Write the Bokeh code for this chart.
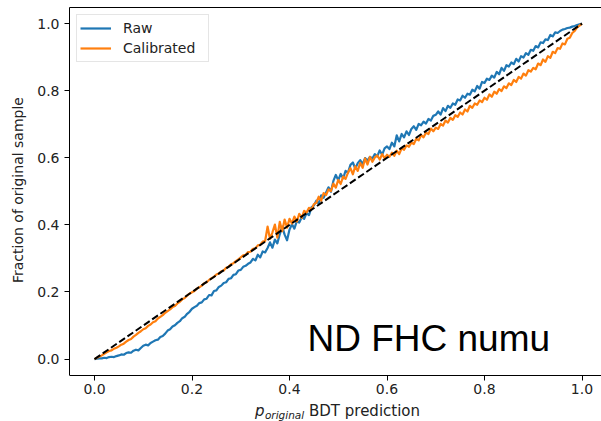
from bokeh.plotting import figure
from bokeh.models import Range1d, LinearAxis, FixedTicker, Label, Legend, LegendItem
from bokeh.embed import file_html
from bokeh.resources import INLINE

# Bin positions of the calibration curves (regular 0.005 grid from 0 to 1)
n_bins = 201
bin_step = 0.005
x_bins = [round(i * bin_step, 3) for i in range(n_bins)]

raw_frac = [
    0.000, 0.001, 0.002, 0.002, 0.004, 0.003, 0.006, 0.007, 0.006, 0.009, 0.011,
    0.014, 0.013, 0.018, 0.020, 0.019, 0.025, 0.028, 0.026, 0.033, 0.040,
    0.043, 0.041, 0.048, 0.052, 0.056, 0.058, 0.066, 0.069, 0.076, 0.085,
    0.089, 0.097, 0.101, 0.108, 0.113, 0.122, 0.126, 0.135, 0.141, 0.150,
    0.155, 0.159, 0.167, 0.169, 0.178, 0.180, 0.191, 0.190, 0.203, 0.205,
    0.215, 0.219, 0.227, 0.229, 0.239, 0.241, 0.251, 0.253, 0.264, 0.266,
    0.275, 0.278, 0.284, 0.288, 0.299, 0.294, 0.311, 0.303, 0.321, 0.318,
    0.331, 0.348, 0.332, 0.356, 0.345, 0.372, 0.395, 0.371, 0.354, 0.386,
    0.402, 0.389, 0.411, 0.407, 0.423, 0.418, 0.435, 0.429, 0.452, 0.458,
    0.472, 0.463, 0.488, 0.481, 0.497, 0.512, 0.499, 0.531, 0.549, 0.533,
    0.552, 0.539, 0.561, 0.556, 0.579, 0.586, 0.568, 0.584, 0.593, 0.581,
    0.599, 0.592, 0.603, 0.598, 0.611, 0.604, 0.622, 0.609, 0.628, 0.634,
    0.626, 0.645, 0.634, 0.667, 0.649, 0.671, 0.661, 0.679, 0.668, 0.686,
    0.694, 0.683, 0.701, 0.697, 0.708, 0.702, 0.716, 0.711, 0.725, 0.728,
    0.738, 0.729, 0.748, 0.739, 0.755, 0.749, 0.762, 0.758, 0.774, 0.771,
    0.785, 0.779, 0.791, 0.788, 0.803, 0.798, 0.814, 0.806, 0.826, 0.823,
    0.836, 0.832, 0.845, 0.839, 0.856, 0.849, 0.868, 0.859, 0.876, 0.872,
    0.884, 0.879, 0.895, 0.887, 0.903, 0.899, 0.912, 0.907, 0.922, 0.919,
    0.933, 0.929, 0.944, 0.942, 0.953, 0.951, 0.966, 0.962, 0.974, 0.972,
    0.978, 0.982, 0.984, 0.987, 0.988, 0.991, 0.993, 0.996, 0.998, 1.000,
]

calibrated_frac = [
    0.000, 0.004, 0.008, 0.011, 0.016, 0.020, 0.024, 0.026, 0.031, 0.034, 0.038,
    0.043, 0.046, 0.052, 0.057, 0.060, 0.067, 0.072, 0.078, 0.083, 0.089,
    0.092, 0.099, 0.103, 0.110, 0.113, 0.121, 0.126, 0.131, 0.138, 0.143,
    0.148, 0.155, 0.158, 0.166, 0.171, 0.178, 0.182, 0.189, 0.195, 0.199,
    0.203, 0.210, 0.214, 0.219, 0.226, 0.229, 0.236, 0.241, 0.245, 0.252,
    0.255, 0.262, 0.264, 0.272, 0.275, 0.283, 0.286, 0.292, 0.297, 0.303,
    0.309, 0.311, 0.319, 0.320, 0.329, 0.330, 0.339, 0.341, 0.350, 0.352,
    0.395, 0.358, 0.378, 0.401, 0.362, 0.409, 0.381, 0.416, 0.392, 0.418,
    0.404, 0.425, 0.410, 0.433, 0.421, 0.442, 0.437, 0.451, 0.446, 0.462,
    0.466, 0.484, 0.472, 0.495, 0.489, 0.506, 0.501, 0.523, 0.511, 0.534,
    0.522, 0.544, 0.537, 0.556, 0.569, 0.551, 0.575, 0.561, 0.585, 0.570,
    0.598, 0.580, 0.603, 0.588, 0.601, 0.607, 0.595, 0.611, 0.599, 0.609,
    0.603, 0.615, 0.606, 0.621, 0.611, 0.628, 0.624, 0.637, 0.633, 0.645,
    0.641, 0.657, 0.652, 0.668, 0.661, 0.675, 0.671, 0.687, 0.679, 0.690,
    0.686, 0.701, 0.696, 0.711, 0.705, 0.719, 0.713, 0.727, 0.722, 0.735,
    0.729, 0.744, 0.738, 0.755, 0.749, 0.762, 0.758, 0.771, 0.766, 0.779,
    0.773, 0.789, 0.782, 0.797, 0.791, 0.805, 0.799, 0.813, 0.808, 0.822,
    0.817, 0.832, 0.826, 0.841, 0.836, 0.851, 0.845, 0.861, 0.857, 0.868,
    0.864, 0.881, 0.876, 0.893, 0.886, 0.903, 0.898, 0.916, 0.912, 0.927,
    0.925, 0.941, 0.938, 0.955, 0.958, 0.972, 0.978, 0.989, 0.994, 1.000,
]

diag_x = [0.0, 1.0]
diag_y = [0.0, 1.0]

tick_values = [0.0, 0.2, 0.4, 0.6, 0.8, 1.0]
tick_labels = ["0.0", "0.2", "0.4", "0.6", "0.8", "1.0"]

series_names = ["Raw", "Calibrated"]
series_colors = ["#1f77b4", "#ff7f0e"]

FONT = "DejaVu Sans"
TXT = "#222222"

# visible axes box (data units); the frame extends below it to hold the x label
y_lo, y_hi = -0.049, 1.048

p = figure(
    width=601, height=421,
    output_backend="svg", toolbar_location=None,
    x_range=Range1d(-0.0513, 1.04), y_range=Range1d(-0.186, y_hi),
    min_border_left=69, min_border_right=0, min_border_top=7, min_border_bottom=0,
    background_fill_color="white", border_fill_color="white",
)
p.grid.visible = False
p.outline_line_color = None

for ax in (p.xaxis[0], p.yaxis[0]):
    ax.ticker = FixedTicker(ticks=tick_values)
    ax.major_label_overrides = {v: l for v, l in zip(tick_values, tick_labels)}
    ax.axis_line_color = "black"
    ax.axis_line_width = 1
    ax.major_tick_line_color = "black"
    ax.major_tick_out = 5
    ax.major_tick_in = 0
    ax.minor_tick_out = 0
    ax.minor_tick_in = 0
    ax.major_label_standoff = 5
    ax.major_label_text_font = FONT
    ax.major_label_text_font_size = "14px"
    ax.major_label_text_color = TXT
p.xaxis[0].major_label_standoff = 3
p.xaxis[0].fixed_location = y_lo
p.yaxis[0].bounds = (y_lo, y_hi)

# leading no-break spaces re-centre the rotated label on the visible axes box
p.yaxis[0].axis_label = "\u00a0" * 11 + "Fraction of original sample"
p.yaxis[0].axis_label_text_font = FONT
p.yaxis[0].axis_label_text_font_size = "14px"
p.yaxis[0].axis_label_text_font_style = "normal"
p.yaxis[0].axis_label_text_color = TXT
p.yaxis[0].axis_label_standoff = 8

# top spine
top_axis = LinearAxis(
    ticker=FixedTicker(ticks=[]), axis_line_color="black", axis_line_width=1,
    major_tick_out=0, major_tick_in=0, minor_tick_out=0, minor_tick_in=0,
    major_label_text_font_size="0px", major_label_standoff=0,
)
p.add_layout(top_axis, "above")

r_raw = p.line(x_bins, raw_frac, line_color=series_colors[0], line_width=2.2, line_join="round")
r_cal = p.line(x_bins, calibrated_frac, line_color=series_colors[1], line_width=2.2, line_join="round")
p.line(diag_x, diag_y, line_color="black", line_width=2, line_dash="7 3")

legend = Legend(
    items=[LegendItem(label=series_names[0], renderers=[r_raw]),
           LegendItem(label=series_names[1], renderers=[r_cal])],
    location="top_left",
    label_text_font=FONT, label_text_font_size="14px", label_text_color=TXT,
    glyph_width=31, glyph_height=20, label_height=20, label_width=82, label_standoff=12,
    spacing=0, padding=3, margin=7,
    border_line_color="#cccccc", border_line_width=1,
    background_fill_color="white", background_fill_alpha=0.8,
)
p.add_layout(legend, "center")

# x-axis label: p_{original} BDT prediction
xlab_y = -0.1544
xlab_sub_y = -0.1660
p.add_layout(Label(x=0.329, y=xlab_y, text="p",
                   text_font=FONT, text_font_style="italic", text_font_size="15px",
                   text_color=TXT, text_baseline="alphabetic"))
p.add_layout(Label(x=0.3495, y=xlab_sub_y, text="original",
                   text_font=FONT, text_font_style="italic", text_font_size="10.5px",
                   text_color=TXT, text_baseline="alphabetic"))
p.add_layout(Label(x=0.4400, y=xlab_y, text="BDT prediction",
                   text_font=FONT, text_font_size="15px",
                   text_color=TXT, text_baseline="alphabetic"))

p.add_layout(Label(x=0.4368, y=0.0608, text="ND FHC numu",
                   text_font="Liberation Sans", text_font_size="37px",
                   text_color="black", text_baseline="alphabetic"))

open("out.html", "w").write(file_html(p, INLINE))
